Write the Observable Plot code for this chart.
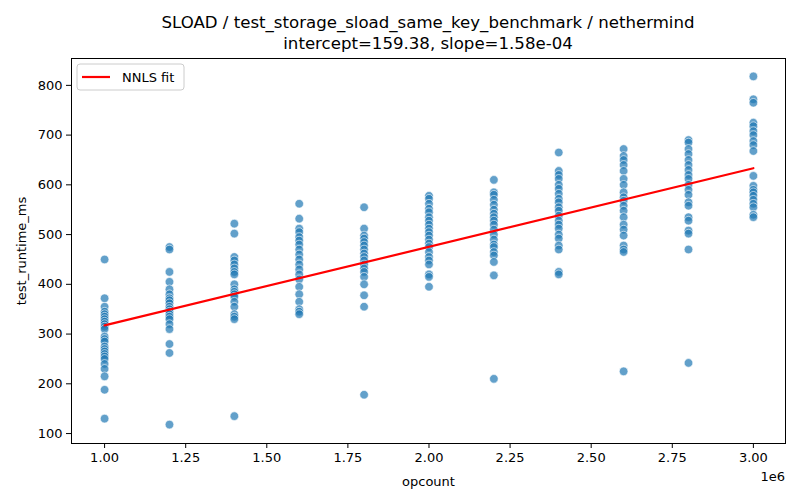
<!DOCTYPE html>
<html><head><meta charset="utf-8">
<script src="https://cdn.jsdelivr.net/npm/d3@7"></script>
<script src="https://cdn.jsdelivr.net/npm/@observablehq/plot@0.6"></script>
<style>body{margin:0;background:#fff;font-family:"DejaVu Sans",sans-serif}</style>
</head><body><div id="chart"></div>
<script>
const opcounts = [1.0e6,1.2e6,1.4e6,1.6e6,1.8e6,2.0e6,2.2e6,2.4e6,2.6e6,2.8e6,3.0e6];
const runtimes = [
 [450,372,355,345,340,335,330,325,320,315,310,295,290,285,275,270,265,260,255,250,240,230,215,188,130],
 [475,470,425,405,390,380,372,368,362,355,350,345,340,335,330,320,310,280,262,118],
 [522,502,455,448,440,432,425,420,400,390,385,380,375,365,355,340,335,330,135],
 [562,532,512,505,495,488,480,470,460,450,440,430,420,410,395,380,365,350,345,340],
 [555,512,498,492,485,478,470,462,455,448,440,432,425,415,400,378,355,178],
 [578,572,562,552,545,535,528,520,512,505,498,490,482,475,465,455,448,440,420,415,395],
 [610,585,580,570,560,550,542,535,528,520,510,500,490,480,475,465,458,445,418,210],
 [665,628,620,612,600,592,582,572,565,555,548,538,528,520,512,500,492,478,470,425,420],
 [672,658,650,640,628,612,600,585,575,568,558,548,535,520,510,498,478,470,465,225],
 [690,685,672,662,650,640,630,620,612,600,590,580,565,558,535,528,508,502,470,242],
 [818,772,765,725,718,708,700,688,680,668,618,598,590,585,578,570,562,555,540,535]
];
const intercept = 159.38, slope = 1.58e-4;
const xTicks = [1.0e6,1.25e6,1.5e6,1.75e6,2.0e6,2.25e6,2.5e6,2.75e6,3.0e6];
const yTicks = [100,200,300,400,500,600,700,800];

const pts = opcounts.flatMap((x,i)=>runtimes[i].map(y=>({x,y})));
const fit = [opcounts[0], opcounts[opcounts.length-1]].map(x=>({x,y:intercept+slope*x}));

const plot = Plot.plot({
  width:800,height:500,marginLeft:71,marginRight:15,marginTop:58,marginBottom:57,
  style:{fontSize:"13px",fontFamily:"DejaVu Sans, sans-serif",color:"#000"},
  x:{domain:[0.898e6,3.099e6],ticks:xTicks,tickFormat:d=>(d/1e6).toFixed(2),label:"opcount",labelArrow:"none",labelAnchor:"center",labelOffset:42,tickSize:5},
  y:{domain:[80,854],ticks:yTicks,label:"test_runtime_ms",labelArrow:"none",labelAnchor:"center",labelOffset:55,tickSize:5},
  marks:[
    Plot.dot(pts,{x:"x",y:"y",r:4.3,fill:"#1f77b4",fillOpacity:0.7,stroke:"white",strokeWidth:0.6}),
    Plot.line(fit,{x:"x",y:"y",stroke:"red",strokeWidth:2.2}),
    Plot.frame({stroke:"#000"})
  ]
});
const svg = d3.select(plot);
svg.append("text").attr("x",428).attr("y",28).attr("text-anchor","middle").style("font-size","16.6px")
  .text("SLOAD / test_storage_sload_same_key_benchmark / nethermind");
svg.append("text").attr("x",428).attr("y",49).attr("text-anchor","middle").style("font-size","16.6px")
  .text("intercept=159.38, slope=1.58e-04");
svg.append("text").attr("x",785).attr("y",481).attr("text-anchor","end").style("font-size","13px").text("1e6");
const lg = svg.append("g");
lg.append("rect").attr("x",77).attr("y",64).attr("width",107).attr("height",26).attr("rx",3)
  .attr("fill","white").attr("stroke","#ccc");
lg.append("line").attr("x1",82).attr("x2",110).attr("y1",77).attr("y2",77).attr("stroke","red").attr("stroke-width",2.2);
lg.append("text").attr("x",122).attr("y",82).style("text-anchor","start").style("font-size","13px").text("NNLS fit");
document.getElementById("chart").appendChild(plot);
</script></body></html>
